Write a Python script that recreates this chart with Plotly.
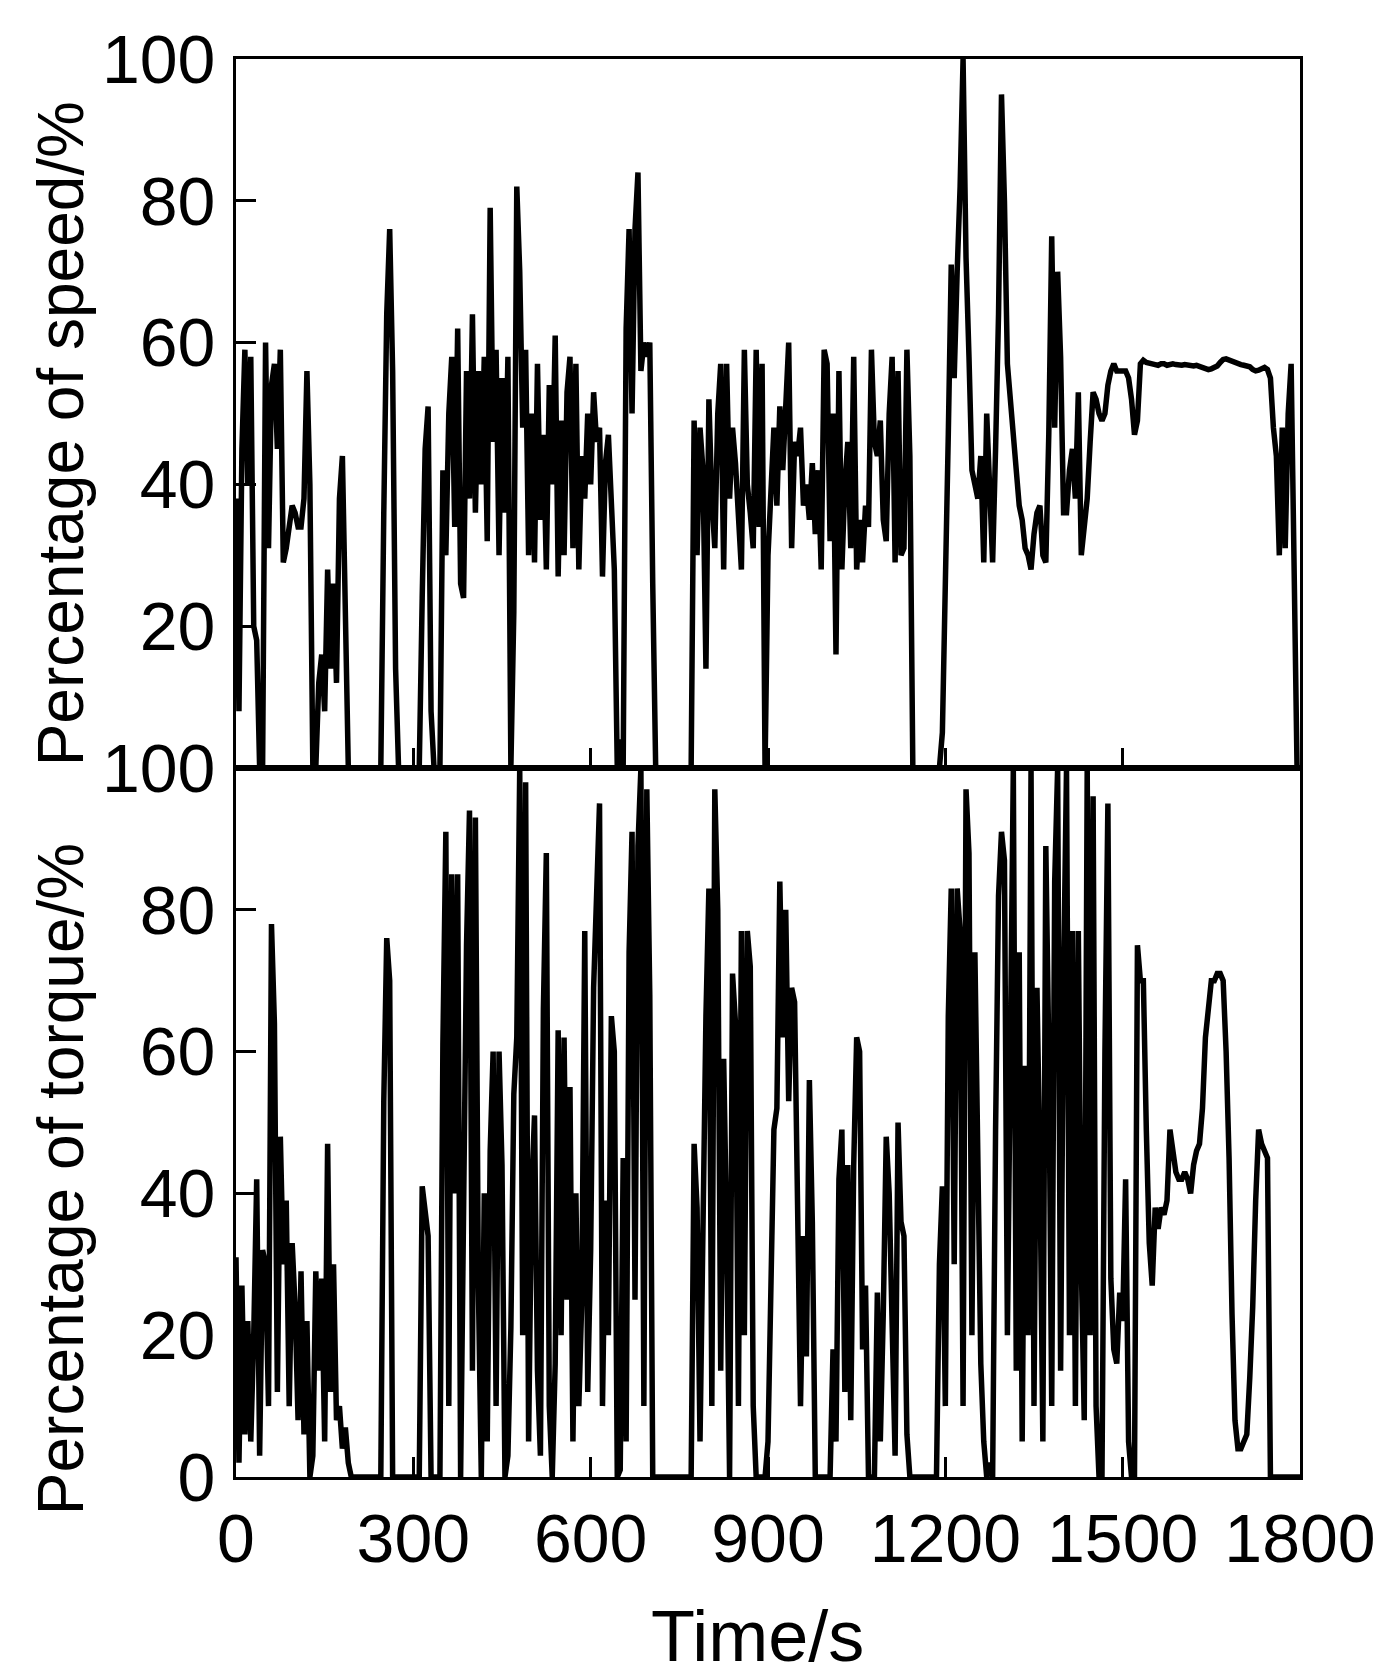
import plotly.graph_objects as go
from plotly.subplots import make_subplots

# time axis, one reading every 5 s
time_s = list(range(0, 1805, 5))

# engine speed, % of rated
speed_pct = [
    38, 8, 45, 59, 40, 58, 20, 18, 0, 0, 60, 31, 54, 57, 45, 59, 29, 31, 34, 37,
    36, 34, 34, 38, 56, 40, 0, 0, 12, 16, 8, 28, 14, 26, 12, 38, 44, 20, 0, 0,
    0, 0, 0, 0, 0, 0, 0, 0, 0, 0, 36, 64, 76, 56, 14, 0, 0, 0, 0, 0,
    0, 0, 0, 24, 45, 51, 8, 0, 0, 0, 42, 30, 50, 58, 34, 62, 26, 24, 56, 38,
    64, 36, 56, 40, 58, 32, 79, 46, 59, 30, 55, 36, 58, 0, 22, 82, 70, 48, 59, 30,
    50, 29, 57, 35, 47, 28, 54, 40, 61, 27, 49, 30, 53, 58, 31, 57, 28, 44, 38, 50,
    40, 53, 46, 48, 27, 43, 47, 35, 28, 0, 4, 0, 62, 76, 50, 76, 84, 56, 60, 58,
    60, 26, 0, 0, 0, 0, 0, 0, 0, 0, 0, 0, 0, 0, 0, 49, 30, 48, 42, 14,
    52, 38, 31, 50, 57, 28, 57, 38, 48, 43, 36, 28, 59, 40, 36, 31, 59, 34, 57, 0,
    30, 40, 48, 37, 51, 42, 52, 60, 31, 46, 44, 48, 37, 40, 35, 43, 33, 42, 28, 59,
    57, 32, 50, 16, 56, 28, 40, 46, 31, 58, 28, 35, 29, 37, 34, 59, 46, 44, 49, 35,
    32, 50, 58, 29, 56, 30, 31, 59, 44, 0, 0, 0, 0, 0, 0, 0, 0, 0, 0, 5,
    32, 47, 71, 55, 70, 82, 100, 72, 58, 42, 40, 38, 44, 29, 50, 40, 29, 45, 64, 95,
    80, 57, 52, 48, 41, 37, 35, 31, 30, 28, 33, 36, 37, 30, 29, 47, 75, 48, 70, 58,
    36, 36, 42, 45, 38, 53, 30, 34, 38, 46, 53, 52, 50, 49, 50, 54, 56, 57, 56, 56,
    56, 56, 55, 52, 47, 49, 57, 57.5, 57.2, 57, 57, 56.9, 56.8, 57, 57, 56.8, 56.9, 57, 56.9, 56.8,
    56.8, 56.9, 56.8, 56.8, 56.7, 56.8, 56.7, 56.5, 56.4, 56.2, 56.3, 56.5, 56.7, 57.2, 57.6, 57.7, 57.5, 57.3, 57.2, 57,
    56.9, 56.8, 56.7, 56.6, 56.2, 56, 56.1, 56.4, 56.5, 56.2, 55, 48, 44, 30, 48, 31, 50, 57, 30, 0, 0,
]

# engine torque, % of max (lower panel)
torque_pct = [
    31, 2, 27, 6, 22, 5, 20, 42, 3, 32, 30, 10, 78, 64, 12, 48, 30, 39, 10, 33,
    24, 8, 29, 6, 22, 0, 3, 29, 15, 28, 5, 47, 12, 30, 8, 10, 4, 7, 2, 0,
    0, 0, 0, 0, 0, 0, 0, 0, 0, 0, 53, 76, 70, 0, 0, 0, 0, 0, 0, 0,
    0, 0, 0, 41, 37, 34, 0, 0, 0, 0, 61, 91, 10, 85, 40, 85, 0, 47, 75, 94,
    15, 93, 27, 0, 40, 5, 46, 60, 10, 60, 44, 0, 3, 21, 54, 62, 100, 20, 98, 5,
    40, 51, 15, 3, 66, 88, 10, 0, 16, 63, 20, 62, 25, 55, 5, 40, 10, 25, 77, 12,
    32, 69, 83, 95, 10, 39, 20, 65, 60, 0, 1, 45, 5, 74, 91, 25, 89, 100, 10, 97,
    68, 0, 0, 0, 0, 0, 0, 0, 0, 0, 0, 0, 0, 0, 0, 47, 38, 5, 41, 65,
    83, 10, 97, 80, 15, 59, 35, 0, 71, 64, 10, 77, 20, 77, 72, 10, 0, 0, 0, 0,
    5, 31, 49, 52, 84, 62, 80, 53, 69, 67, 31, 10, 34, 17, 56, 36, 0, 0, 0, 0,
    0, 0, 18, 5, 42, 49, 12, 44, 8, 44, 62, 60, 18, 27, 0, 0, 0, 26, 5, 23,
    48, 40, 24, 3, 50, 36, 34, 6, 0, 0, 0, 0, 0, 0, 0, 0, 0, 0, 30, 41,
    10, 65, 83, 30, 83, 77, 10, 97, 88, 20, 74, 48, 16, 5, 0, 2, 0, 49, 82, 91,
    87, 20, 66, 100, 15, 74, 5, 58, 20, 100, 10, 69, 44, 5, 89, 60, 10, 84, 100, 15,
    70, 100, 20, 77, 10, 77, 30, 8, 100, 20, 96, 10, 0, 0, 60, 95, 28, 18, 16, 26,
    22, 42, 5, 0, 0, 75, 70, 70, 49, 33, 27, 38, 35, 38, 37, 39, 49, 46, 43, 42,
    42, 43, 42, 40, 44, 46, 47, 52, 62, 66, 70, 70, 71, 71, 70, 60, 45, 23, 8, 4,
    4, 5, 6, 14, 24, 39, 49, 47, 46, 45, 0, 0, 0, 0, 0, 0, 0, 0, 0, 0, 0,
]

x_ticks = [0, 300, 600, 900, 1200, 1500, 1800]
speed_ticks = [20, 40, 60, 80, 100]
torque_ticks = [0, 20, 40, 60, 80, 100]

fig = make_subplots(rows=2, cols=1, shared_xaxes=True, vertical_spacing=0)

fig.add_trace(go.Scatter(x=time_s, y=speed_pct, mode="lines",
                         line=dict(color="black", width=5.5)), row=1, col=1)
fig.add_trace(go.Scatter(x=time_s, y=torque_pct, mode="lines",
                         line=dict(color="black", width=5.5)), row=2, col=1)

tick_font = dict(family="Liberation Sans, Arial", size=68, color="black")
axis_style = dict(showline=True, linecolor="black", linewidth=3, mirror=True,
                  ticks="inside", ticklen=20, tickwidth=3, tickcolor="black",
                  showgrid=False, zeroline=False, tickfont=tick_font, tickangle=0)

fig.update_xaxes(range=[0, 1800], tickvals=x_ticks, **axis_style)
fig.update_xaxes(showticklabels=False, row=1, col=1)

fig.update_yaxes(range=[0, 100], ticklabelstandoff=4, **axis_style)
fig.update_yaxes(tickvals=speed_ticks, row=1, col=1)
fig.update_yaxes(tickvals=torque_ticks, row=2, col=1)

# axis titles placed where they sit in the original
title_font = dict(family="Liberation Sans, Arial", color="black")
fig.add_annotation(text="Percentage of speed/%", xref="paper", yref="paper",
                   x=-0.1645, y=0.736, textangle=-90, showarrow=False,
                   xanchor="center", yanchor="middle", font=dict(size=64, **title_font))
fig.add_annotation(text="Percentage of torque/%", xref="paper", yref="paper",
                   x=-0.1645, y=0.21, textangle=-90, showarrow=False,
                   xanchor="center", yanchor="middle", font=dict(size=64, **title_font))
fig.add_annotation(text="Time/s", xref="paper", yref="paper",
                   x=0.49, y=-0.112, showarrow=False,
                   xanchor="center", yanchor="middle", font=dict(size=72, **title_font))

fig.update_layout(
    width=1387, height=1678,
    margin=dict(l=228, r=95, t=51, b=209),
    paper_bgcolor="white", plot_bgcolor="white",
    showlegend=False,
    font=dict(family="Liberation Sans, Arial, sans-serif", size=60, color="black"),
)

fig.write_html("out.html")
